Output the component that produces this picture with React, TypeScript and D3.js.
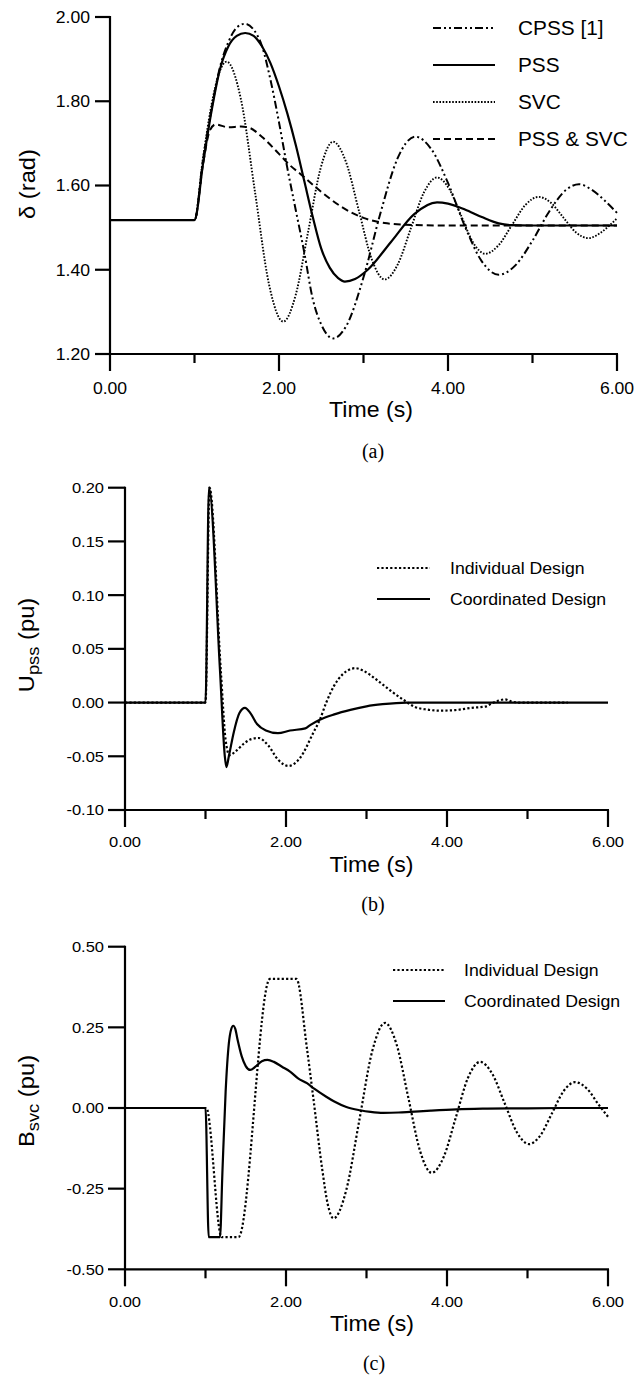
import React from 'react';
import * as d3 from 'd3';

type P = [number, number];

const SANS = '"Liberation Sans", Arial, Helvetica, sans-serif';
const SERIF = '"Liberation Serif", "Times New Roman", serif';

// ---------- shared axis ticks ----------
const timeTicks = [0, 1, 2, 3, 4, 5, 6];
const timeLabels = [0, 2, 4, 6];

// ---------- panel (a): rotor angle ----------
const deltaYTicks = [1.2, 1.4, 1.6, 1.8, 2.0];
const legendA = ['CPSS [1]', 'PSS', 'SVC', 'PSS & SVC'];

const cpss: P[] = [
  [0, 1.518], [1.0, 1.518], [1.1, 1.66], [1.2, 1.78], [1.3, 1.88], [1.4, 1.94], [1.5, 1.975],
  [1.6, 1.984], [1.7, 1.97], [1.8, 1.93], [1.9, 1.85], [2.0, 1.75], [2.1, 1.64], [2.2, 1.54],
  [2.3, 1.44], [2.4, 1.33], [2.5, 1.27], [2.64, 1.237], [2.8, 1.268], [3.0, 1.382], [3.2, 1.534],
  [3.4, 1.663], [3.5, 1.70], [3.61, 1.716], [3.8, 1.687], [4.0, 1.606], [4.2, 1.503], [4.4, 1.42],
  [4.6, 1.388], [4.8, 1.411], [5.0, 1.469], [5.2, 1.539], [5.4, 1.59], [5.55, 1.603], [5.7, 1.59],
  [5.85, 1.565], [6.0, 1.535],
];
const pssA: P[] = [
  [0, 1.518], [1.0, 1.518], [1.1, 1.65], [1.2, 1.775], [1.3, 1.875], [1.4, 1.93], [1.5, 1.955],
  [1.6, 1.962], [1.7, 1.955], [1.8, 1.93], [1.9, 1.89], [2.0, 1.835], [2.1, 1.77], [2.2, 1.695],
  [2.3, 1.61], [2.4, 1.525], [2.5, 1.45], [2.6, 1.405], [2.7, 1.38], [2.78, 1.372], [2.9, 1.378],
  [3.05, 1.40], [3.325, 1.466], [3.6, 1.532], [3.87, 1.56], [4.0, 1.557], [4.2, 1.543],
  [4.4, 1.525], [4.6, 1.51], [4.75, 1.506], [5.0, 1.505], [6.0, 1.505],
];
const svcA: P[] = [
  [0, 1.518], [1.0, 1.518], [1.1, 1.664], [1.2, 1.79], [1.3, 1.872], [1.38, 1.894], [1.55, 1.804],
  [1.715, 1.586], [1.88, 1.367], [2.05, 1.277], [2.1975, 1.34], [2.345, 1.4905], [2.4925, 1.641],
  [2.64, 1.704], [2.7925, 1.656], [2.945, 1.5405], [3.0975, 1.425], [3.25, 1.377], [3.405, 1.4125],
  [3.56, 1.498], [3.715, 1.5835], [3.87, 1.619], [4.0125, 1.5925], [4.155, 1.5285], [4.2975, 1.4645],
  [4.44, 1.438], [4.5975, 1.458], [4.755, 1.5055], [4.9125, 1.553], [5.07, 1.573], [5.2175, 1.559],
  [5.365, 1.524], [5.5125, 1.489], [5.66, 1.475], [5.8, 1.487], [5.9, 1.503], [6.0, 1.522],
];
const pssSvc: P[] = [
  [0, 1.518], [1.0, 1.518], [1.1, 1.65], [1.18, 1.73], [1.25, 1.745], [1.4, 1.738], [1.55, 1.74],
  [1.65, 1.737], [1.8, 1.715], [2.0, 1.675], [2.13, 1.648], [2.25, 1.628], [2.5, 1.585],
  [2.75, 1.548], [3.0, 1.523], [3.25, 1.511], [3.5, 1.507], [4.0, 1.505], [6.0, 1.505],
];

// ---------- panel (b): PSS output ----------
const upssYTicks = [-0.1, -0.05, 0, 0.05, 0.1, 0.15, 0.2];
const legendBC = ['Individual Design', 'Coordinated Design'];

const upssIndividual: P[] = [
  [0, 0], [1.0, 0], [1.05, 0.2], [1.19, 0.03], [1.25, -0.035], [1.3, -0.049], [1.38, -0.045],
  [1.48, -0.038], [1.57, -0.034], [1.66, -0.033], [1.78, -0.04], [1.9, -0.053], [2.03, -0.059],
  [2.17, -0.052], [2.34, -0.028], [2.42, -0.016], [2.5, 0], [2.6, 0.016], [2.7, 0.026],
  [2.86, 0.032], [2.95, 0.03], [3.13, 0.021], [3.3, 0.011], [3.46, 0.0025], [3.6, -0.004],
  [3.75, -0.0065], [3.91, -0.0075], [4.1, -0.007], [4.3, -0.005], [4.49, -0.0035], [4.55, -0.001],
  [4.65, 0.002], [4.72, 0.003], [4.8, 0.001], [4.9, 0], [5.5, 0],
];
const upssCoordinated: P[] = [
  [0, 0], [1.0, 0], [1.043, 0.2], [1.18, 0.03], [1.24, -0.05], [1.26, -0.06], [1.29, -0.05],
  [1.35, -0.028], [1.42, -0.01], [1.49, -0.005], [1.56, -0.01], [1.64, -0.02], [1.75, -0.026],
  [1.9, -0.0285], [2.05, -0.026], [2.24, -0.024], [2.3, -0.021], [2.42, -0.016], [2.6, -0.011],
  [2.8, -0.0068], [3.0, -0.0035], [3.2, -0.0015], [3.5, 0], [6.0, 0],
];

// ---------- panel (c): SVC susceptance ----------
const bsvcYTicks = [-0.5, -0.25, 0, 0.25, 0.5];

const bsvcIndividual: P[] = [
  [0, 0], [1.01, 0], [1.2, -0.4], [1.41, -0.4], [1.8, 0.4], [2.13, 0.4], [2.26, 0.185],
  [2.34, 0.03], [2.45, -0.19], [2.52, -0.3], [2.59, -0.342], [2.75, -0.253], [2.91, -0.039],
  [3.07, 0.175], [3.23, 0.264], [3.375, 0.196], [3.52, 0.0315], [3.665, -0.133], [3.81, -0.201],
  [3.96, -0.151], [4.11, -0.029], [4.26, 0.093], [4.41, 0.143], [4.5625, 0.106], [4.715, 0.0155],
  [4.8675, -0.075], [5.02, -0.112], [5.1625, -0.084], [5.305, -0.016], [5.4475, 0.052],
  [5.59, 0.08], [5.74, 0.0595], [5.885, 0.01], [6.0, -0.027],
];
const bsvcCoordinated: P[] = [
  [0, 0], [1.0, 0], [1.04, -0.4], [1.18, -0.4], [1.21, -0.2], [1.25, 0.05], [1.29, 0.2],
  [1.32, 0.245], [1.345, 0.255], [1.37, 0.245], [1.4, 0.21], [1.45, 0.16], [1.5, 0.13],
  [1.555, 0.118], [1.62, 0.128], [1.7, 0.145], [1.77, 0.149], [1.85, 0.143], [1.95, 0.128],
  [2.05, 0.113], [2.15, 0.092], [2.26, 0.077], [2.35, 0.06], [2.5, 0.035], [2.6, 0.02],
  [2.75, 0.003], [2.92, -0.007], [3.05, -0.012], [3.21, -0.015], [3.4, -0.014], [3.54, -0.012],
  [3.8, -0.008], [4.12, -0.004], [4.5, -0.002], [5.0, -0.001], [5.5, 0], [6.0, 0],
];

// ---------- helpers ----------
type TProps = {
  x: number; y: number; size: number; anchor?: string; sx?: number; family?: string;
  rotate?: number; dy?: string; children: React.ReactNode;
};
function T({ x, y, size, anchor = 'start', sx = 1.1, family = SANS, rotate = 0, dy, children }: TProps) {
  return (
    <text
      transform={`translate(${x},${y}) rotate(${rotate}) scale(${sx},1)`}
      fontSize={size}
      fontFamily={family}
      textAnchor={anchor}
      dy={dy}
      fill="#000"
    >
      {children}
    </text>
  );
}

type Series = { data: P[]; dash?: string; width: number };
type PanelProps = {
  xRange: [number, number];
  yDomain: [number, number];
  yRange: [number, number];
  yTicks: number[];
  yTickLen: number;
  tickSize: number;
  yLabelRight: number;
  xLabelBaseline: number;
  series: Series[];
};

function Panel({ xRange, yDomain, yRange, yTicks, yTickLen, tickSize, yLabelRight, xLabelBaseline, series }: PanelProps) {
  const xs = d3.scaleLinear().domain([0, 6]).range(xRange);
  const ys = d3.scaleLinear().domain(yDomain).range(yRange);
  const line = d3
    .line<P>()
    .x((d) => xs(d[0]))
    .y((d) => ys(d[1]))
    .curve(d3.curveMonotoneX);
  const x0 = xs(0);
  const yb = ys(yDomain[0]);
  const yt = ys(yDomain[1]);
  return (
    <g>
      {series.map((s, i) => (
        <path key={i} d={line(s.data) || ''} fill="none" stroke="#000" strokeWidth={s.width}
          strokeDasharray={s.dash} strokeLinejoin="round" />
      ))}
      <line x1={x0} x2={x0} y1={yt - 1} y2={yb} stroke="#000" strokeWidth={2.2} />
      <line x1={x0 - 1} x2={xs(6) + 1} y1={yb} y2={yb} stroke="#000" strokeWidth={2.2} />
      {timeTicks.map((t) => (
        <line key={t} x1={xs(t)} x2={xs(t)} y1={yb} y2={yb + (t % 2 === 0 ? 17 : 9)}
          stroke="#000" strokeWidth={2.2} />
      ))}
      {yTicks.map((v) => (
        <line key={v} x1={x0 - yTickLen} x2={x0} y1={ys(v)} y2={ys(v)} stroke="#000" strokeWidth={2.2} />
      ))}
      {yTicks.map((v) => (
        <T key={v} x={yLabelRight} y={ys(v)} size={tickSize} anchor="end" dy="0.36em">
          {v.toFixed(2)}
        </T>
      ))}
      {timeLabels.map((t) => (
        <T key={t} x={xs(t)} y={xLabelBaseline} size={tickSize} anchor="middle">
          {t.toFixed(2)}
        </T>
      ))}
    </g>
  );
}

type LegendItem = { label: string; dash?: string; width: number };
function Legend({ x1, x2, tx, ys, size, items }: { x1: number; x2: number; tx: number; ys: number[]; size: number; items: LegendItem[] }) {
  return (
    <g>
      {items.map((it, i) => (
        <g key={it.label}>
          <line x1={x1} x2={x2} y1={ys[i]} y2={ys[i]} stroke="#000" strokeWidth={it.width} strokeDasharray={it.dash} />
          <T x={tx} y={ys[i]} size={size} dy="0.36em" sx={1.04}>{it.label}</T>
        </g>
      ))}
    </g>
  );
}

const DASHDOTDOT = '8,3,2,3,2,3';
const DOT_A = '1.6,1.6';
const DASH = '7,4';
const DOT_BC = '2.2,2.2';

export default function App() {
  return (
    <svg width={638} height={1379} viewBox="0 0 638 1379"
      style={{ position: 'absolute', left: 0, top: 0, background: '#fff' }}>
      <rect x={0} y={0} width={638} height={1379} fill="#fff" />

      {/* ---------- (a) ---------- */}
      <Panel xRange={[110, 617]} yDomain={[1.2, 2.0]} yRange={[354, 17]} yTicks={deltaYTicks}
        yTickLen={15} tickSize={16} yLabelRight={90} xLabelBaseline={394}
        series={[
          { data: cpss, dash: DASHDOTDOT, width: 2 },
          { data: pssA, width: 2.2 },
          { data: svcA, dash: DOT_A, width: 1.9 },
          { data: pssSvc, dash: DASH, width: 2 },
        ]} />
      <Legend x1={433} x2={495} tx={518} ys={[28, 65, 102, 139]} size={20}
        items={[
          { label: legendA[0], dash: DASHDOTDOT, width: 2 },
          { label: legendA[1], width: 2.2 },
          { label: legendA[2], dash: DOT_A, width: 1.9 },
          { label: legendA[3], dash: DASH, width: 2 },
        ]} />
      <T x={371} y={417} size={22} anchor="middle" sx={1.05}>Time (s)</T>
      <T x={35} y={184} size={22} anchor="middle" rotate={-90} sx={1.08}>δ (rad)</T>
      <T x={373} y={458} size={20} anchor="middle" sx={1} family={SERIF}>(a)</T>

      {/* ---------- (b) ---------- */}
      <Panel xRange={[125, 608]} yDomain={[-0.1, 0.2]} yRange={[810, 487.7]} yTicks={upssYTicks}
        yTickLen={17} tickSize={15} yLabelRight={104} xLabelBaseline={847}
        series={[
          { data: upssIndividual, dash: DOT_BC, width: 2.2 },
          { data: upssCoordinated, width: 2.2 },
        ]} />
      <Legend x1={377} x2={430} tx={450} ys={[568, 599]} size={17}
        items={[
          { label: legendBC[0], dash: DOT_BC, width: 2 },
          { label: legendBC[1], width: 2.2 },
        ]} />
      <T x={371.5} y={872} size={22} anchor="middle" sx={1.05}>Time (s)</T>
      <text transform="translate(34,645) rotate(-90) scale(1.08,1)" fontFamily={SANS} fontSize={22} textAnchor="middle">
        U<tspan fontSize={17} dy={5}>pss</tspan><tspan dy={-5}> (pu)</tspan>
      </text>
      <T x={373} y={911} size={20} anchor="middle" sx={1} family={SERIF}>(b)</T>

      {/* ---------- (c) ---------- */}
      <Panel xRange={[125, 608]} yDomain={[-0.5, 0.5]} yRange={[1269.3, 946.7]} yTicks={bsvcYTicks}
        yTickLen={17} tickSize={15} yLabelRight={104} xLabelBaseline={1307}
        series={[
          { data: bsvcIndividual, dash: DOT_BC, width: 2.2 },
          { data: bsvcCoordinated, width: 2.2 },
        ]} />
      <Legend x1={393} x2={445} tx={464} ys={[970, 1001]} size={17}
        items={[
          { label: legendBC[0], dash: DOT_BC, width: 2 },
          { label: legendBC[1], width: 2.2 },
        ]} />
      <T x={372} y={1331} size={22} anchor="middle" sx={1.05}>Time (s)</T>
      <text transform="translate(34,1101) rotate(-90) scale(1.08,1)" fontFamily={SANS} fontSize={22} textAnchor="middle">
        B<tspan fontSize={17} dy={5}>svc</tspan><tspan dy={-5}> (pu)</tspan>
      </text>
      <T x={374} y={1370} size={20} anchor="middle" sx={1} family={SERIF}>(c)</T>
    </svg>
  );
}
